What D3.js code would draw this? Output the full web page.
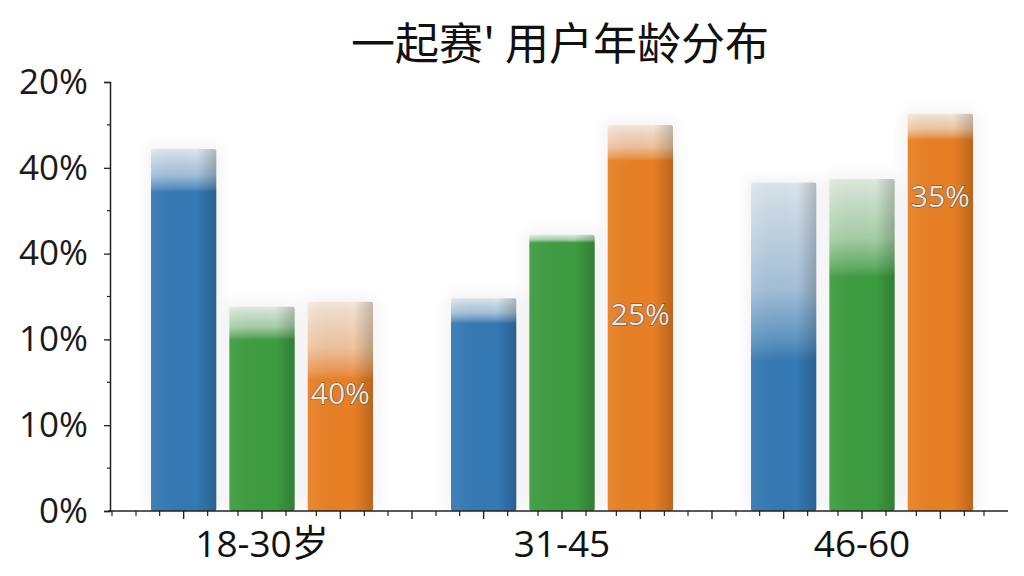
<!DOCTYPE html>
<html>
<head>
<meta charset="utf-8">
<script src="https://cdn.jsdelivr.net/npm/d3@7"></script>
<style>
  html, body { margin: 0; padding: 0; background: #fff; }
  svg { display: block; }
</style>
</head>
<body>
<svg id="chart" width="1024" height="576"></svg>
<script>
// 데이터
const title = "一起赛' 用户年龄分布";
const groups = ["18-30岁", "31-45", "46-60"];
const series = ["blue", "green", "orange"];
const blueValues = [42.2, 24.8, 38.3];
const greenValues = [23.8, 32.2, 38.7];
const orangeValues = [24.4, 45.0, 46.3];
const yTickValues = [0, 10, 20, 30, 40, 50];
const yTickLabels = ["0%", "10%", "10%", "40%", "40%", "20%"];
const barLabels = ["40%", "25%", "35%"];      // orange bar labels
const barLabelAt = [13.8, 23.0, 36.8];        // label anchor in value units

// 스타일
const colors = { blue: "#3479b3", green: "#3d9c40", orange: "#e87f24" };
const fadeDepth = {                           // top fade length (px) per group
  blue: [43, 25, 178],
  green: [33, 8, 98],
  orange: [78, 36, 26]
};

const svg = d3.select("#chart");
const margin = { left: 110, right: 12, top: 82, bottom: 65 };
const W = 1024, H = 576;

const y = d3.scaleLinear().domain([0, 50]).range([H - margin.bottom - 0, margin.top]);
const x0 = d3.scaleBand().domain(groups).range([margin.left + 2, 1012]);
const x1 = d3.scaleBand().domain(series).range([39, 261]).paddingInner(0.167);

const valuesOf = { blue: blueValues, green: greenValues, orange: orangeValues };

const defs = svg.append("defs");

// right edge shading
const side = defs.append("linearGradient").attr("id", "side")
  .attr("x1", 0).attr("x2", 1).attr("y1", 0).attr("y2", 0);
side.append("stop").attr("offset", 0).attr("stop-color", "#fff").attr("stop-opacity", 0.06);
side.append("stop").attr("offset", 0.7).attr("stop-color", "#000").attr("stop-opacity", 0);
side.append("stop").attr("offset", 1).attr("stop-color", "#000").attr("stop-opacity", 0.2);

const shadow = defs.append("filter").attr("id", "soft")
  .attr("x", "-30%").attr("y", "-10%").attr("width", "160%").attr("height", "120%");
shadow.append("feGaussianBlur").attr("stdDeviation", 8);

// title
svg.append("text")
  .attr("x", 560).attr("y", 41)
  .attr("text-anchor", "middle")
  .attr("dominant-baseline", "central")
  .style("font-family", "'Noto Sans CJK SC', 'Noto Sans', sans-serif")
  .style("font-size", "44px")
  .style("font-weight", 400)
  .style("fill", "#111")
  .text(title);

// bars
const barData = [];
groups.forEach((g, gi) => {
  series.forEach(s => {
    barData.push({ group: g, gi, series: s, value: valuesOf[s][gi] });
  });
});

const barG = svg.append("g");

// faint glow behind bars
barG.selectAll("rect.glow").data(barData).enter().append("rect")
  .attr("class", "glow")
  .attr("x", d => x0(d.group) + x1(d.series) - 4)
  .attr("y", d => y(d.value) - 4)
  .attr("width", x1.bandwidth() + 8)
  .attr("height", d => y(0) - y(d.value) + 4)
  .attr("fill", "#000").attr("opacity", 0.05)
  .attr("filter", "url(#soft)");

barData.forEach((d, i) => {
  const top = y(d.value), h = y(0) - top;
  const f = Math.min(fadeDepth[d.series][d.gi] / h, 1);
  const grad = defs.append("linearGradient").attr("id", "fade" + i)
    .attr("x1", 0).attr("x2", 0).attr("y1", 0).attr("y2", 1);
  grad.append("stop").attr("offset", 0).attr("stop-color", colors[d.series]).attr("stop-opacity", 0.12);
  grad.append("stop").attr("offset", f * 0.6).attr("stop-color", colors[d.series]).attr("stop-opacity", 0.42);
  grad.append("stop").attr("offset", f * 0.9).attr("stop-color", colors[d.series]).attr("stop-opacity", 0.8);
  grad.append("stop").attr("offset", f).attr("stop-color", colors[d.series]).attr("stop-opacity", 1);
  grad.append("stop").attr("offset", 1).attr("stop-color", colors[d.series]).attr("stop-opacity", 1);
  d.fill = "url(#fade" + i + ")";
});

barG.selectAll("rect.bar").data(barData).enter().append("rect")
  .attr("class", "bar")
  .attr("x", d => x0(d.group) + x1(d.series))
  .attr("y", d => y(d.value))
  .attr("width", x1.bandwidth())
  .attr("height", d => y(0) - y(d.value))
  .attr("rx", 2)
  .attr("fill", d => d.fill);

barG.selectAll("rect.side").data(barData).enter().append("rect")
  .attr("class", "side")
  .attr("x", d => x0(d.group) + x1(d.series))
  .attr("y", d => y(d.value))
  .attr("width", x1.bandwidth())
  .attr("height", d => y(0) - y(d.value))
  .attr("rx", 2)
  .attr("fill", "url(#side)");

// orange labels
svg.selectAll("text.barlabel").data(groups).enter().append("text")
  .attr("class", "barlabel")
  .attr("x", g => x0(g) + x1("orange") + x1.bandwidth() / 2)
  .attr("y", (g, i) => y(barLabelAt[i]))
  .attr("text-anchor", "middle")
  .attr("dominant-baseline", "central")
  .style("font-family", "'Open Sans', sans-serif")
  .style("font-size", "30px")
  .style("fill", "#e9e4dc")
  .style("stroke", "#5e5040")
  .style("stroke-width", 1.1)
  .style("paint-order", "stroke")
  .text((g, i) => barLabels[i]);

// y axis
const yAxis = svg.append("g")
  .attr("transform", `translate(${margin.left},0)`)
  .call(d3.axisLeft(y).tickValues(yTickValues).tickSize(6).tickPadding(16)
    .tickFormat((d, i) => yTickLabels[i]));
yAxis.select(".domain").attr("stroke", "#222").attr("stroke-width", 1.5);
yAxis.selectAll(".tick line").attr("stroke", "#222").attr("stroke-width", 1.3);
yAxis.selectAll("text")
  .style("font-family", "'Open Sans', sans-serif")
  .style("font-size", "35px")
  .style("fill", "#1a1a1a");

yAxis.selectAll("line.minor").data(d3.range(5, 50, 10)).enter().append("line")
  .attr("class", "minor")
  .attr("x1", -3).attr("x2", 0)
  .attr("y1", d => y(d)).attr("y2", d => y(d))
  .attr("stroke", "#222").attr("stroke-width", 1.2);

// x axis
const baseY = y(0);
const majors = [];
barData.forEach(d => majors.push(x0(d.group) + x1(d.series) + x1.bandwidth() / 2));
groups.slice(1).forEach(g => majors.push(x0(g)));
const minors = [margin.left + 2, margin.left + 26, 1008 - 24];
majors.forEach(m => { minors.push(m - 24); minors.push(m + 24); });

const xAxis = svg.append("g");
xAxis.append("line")
  .attr("x1", margin.left - 2).attr("x2", 1008)
  .attr("y1", baseY).attr("y2", baseY)
  .attr("stroke", "#222").attr("stroke-width", 1.5);
xAxis.selectAll("line.maj").data(majors).enter().append("line")
  .attr("x1", d => d).attr("x2", d => d)
  .attr("y1", baseY).attr("y2", baseY + 8)
  .attr("stroke", "#222").attr("stroke-width", 1.4);
xAxis.selectAll("line.min").data(minors).enter().append("line")
  .attr("x1", d => d).attr("x2", d => d)
  .attr("y1", baseY).attr("y2", baseY + 5)
  .attr("stroke", "#222").attr("stroke-width", 1.2);

xAxis.selectAll("text").data(groups).enter().append("text")
  .attr("x", g => x0(g) + x0.bandwidth() / 2)
  .attr("y", 542)
  .attr("text-anchor", "middle")
  .attr("dominant-baseline", "central")
  .style("font-family", "'Open Sans', 'Noto Sans CJK SC', sans-serif")
  .style("font-size", "37px")
  .style("fill", "#111")
  .text(g => g);
</script>
</body>
</html>
